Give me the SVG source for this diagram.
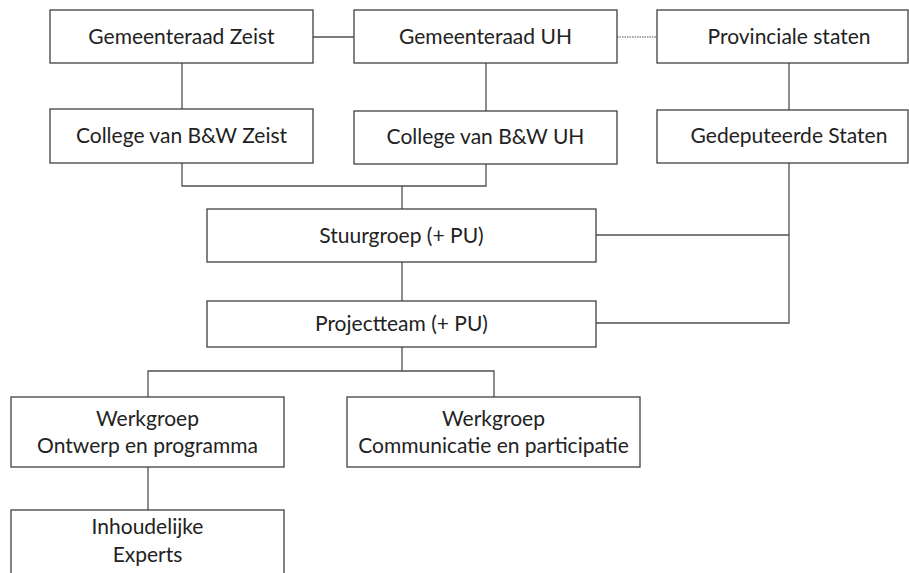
<svg xmlns="http://www.w3.org/2000/svg" width="909" height="573" viewBox="0 0 909 573">
<style>
.box{fill:#fff;stroke:#404040;stroke-width:1.3}
.t{font-family:Lato,"Liberation Sans",sans-serif;font-size:21px;fill:#222;text-anchor:middle}
.c{fill:none;stroke:#505050;stroke-width:1.3}
.d{fill:none;stroke:#505050;stroke-width:1;stroke-dasharray:1.5 1}
</style>
<rect width="909" height="573" fill="#fff"/>
<g id="connectors">
<path class="c" d="M313 37H354"/>
<path class="d" d="M617 37H657"/>
<path class="c" d="M182 63V109"/>
<path class="c" d="M486 63V111"/>
<path class="c" d="M789 63V110"/>
<path class="c" d="M182 163V186H486V164"/>
<path class="c" d="M402 186V209"/>
<path class="c" d="M402 262V301"/>
<path class="c" d="M789 163V323H596"/>
<path class="c" d="M596 235H789"/>
<path class="c" d="M402 347V371"/>
<path class="c" d="M148 397V371H494V397"/>
<path class="c" d="M148 467V510"/>
</g>
<g id="gemeenteraad-zeist"><rect class="box" x="50" y="10" width="263" height="53"/><text class="t" x="181.5" y="44">Gemeenteraad Zeist</text></g>
<g id="gemeenteraad-uh"><rect class="box" x="354" y="10" width="263" height="53"/><text class="t" x="485.5" y="44">Gemeenteraad UH</text></g>
<g id="provinciale-staten"><rect class="box" x="657" y="10" width="251" height="53"/><text class="t" x="789" y="44">Provinciale staten</text></g>
<g id="college-zeist"><rect class="box" x="50" y="109" width="263" height="54"/><text class="t" x="181.5" y="143">College van B&amp;W Zeist</text></g>
<g id="college-uh"><rect class="box" x="354" y="111" width="263" height="53"/><text class="t" x="485.5" y="144">College van B&amp;W UH</text></g>
<g id="gedeputeerde-staten"><rect class="box" x="657" y="110" width="251" height="53"/><text class="t" x="789" y="143">Gedeputeerde Staten</text></g>
<g id="stuurgroep"><rect class="box" x="207" y="209" width="389" height="53"/><text class="t" x="401.5" y="243">Stuurgroep (+ PU)</text></g>
<g id="projectteam"><rect class="box" x="207" y="301" width="389" height="46"/><text class="t" x="401.5" y="331">Projectteam (+ PU)</text></g>
<g id="werkgroep-ontwerp"><rect class="box" x="11" y="397" width="273" height="70"/><text class="t" x="147.5" y="426">Werkgroep</text><text class="t" x="147.5" y="453">Ontwerp en programma</text></g>
<g id="werkgroep-communicatie"><rect class="box" x="347" y="397" width="293" height="70"/><text class="t" x="493.5" y="426">Werkgroep</text><text class="t" x="493.5" y="453">Communicatie en participatie</text></g>
<g id="inhoudelijke-experts"><rect class="box" x="11" y="510" width="273" height="80"/><text class="t" x="147.5" y="534">Inhoudelijke</text><text class="t" x="147.5" y="562">Experts</text></g>
</svg>
